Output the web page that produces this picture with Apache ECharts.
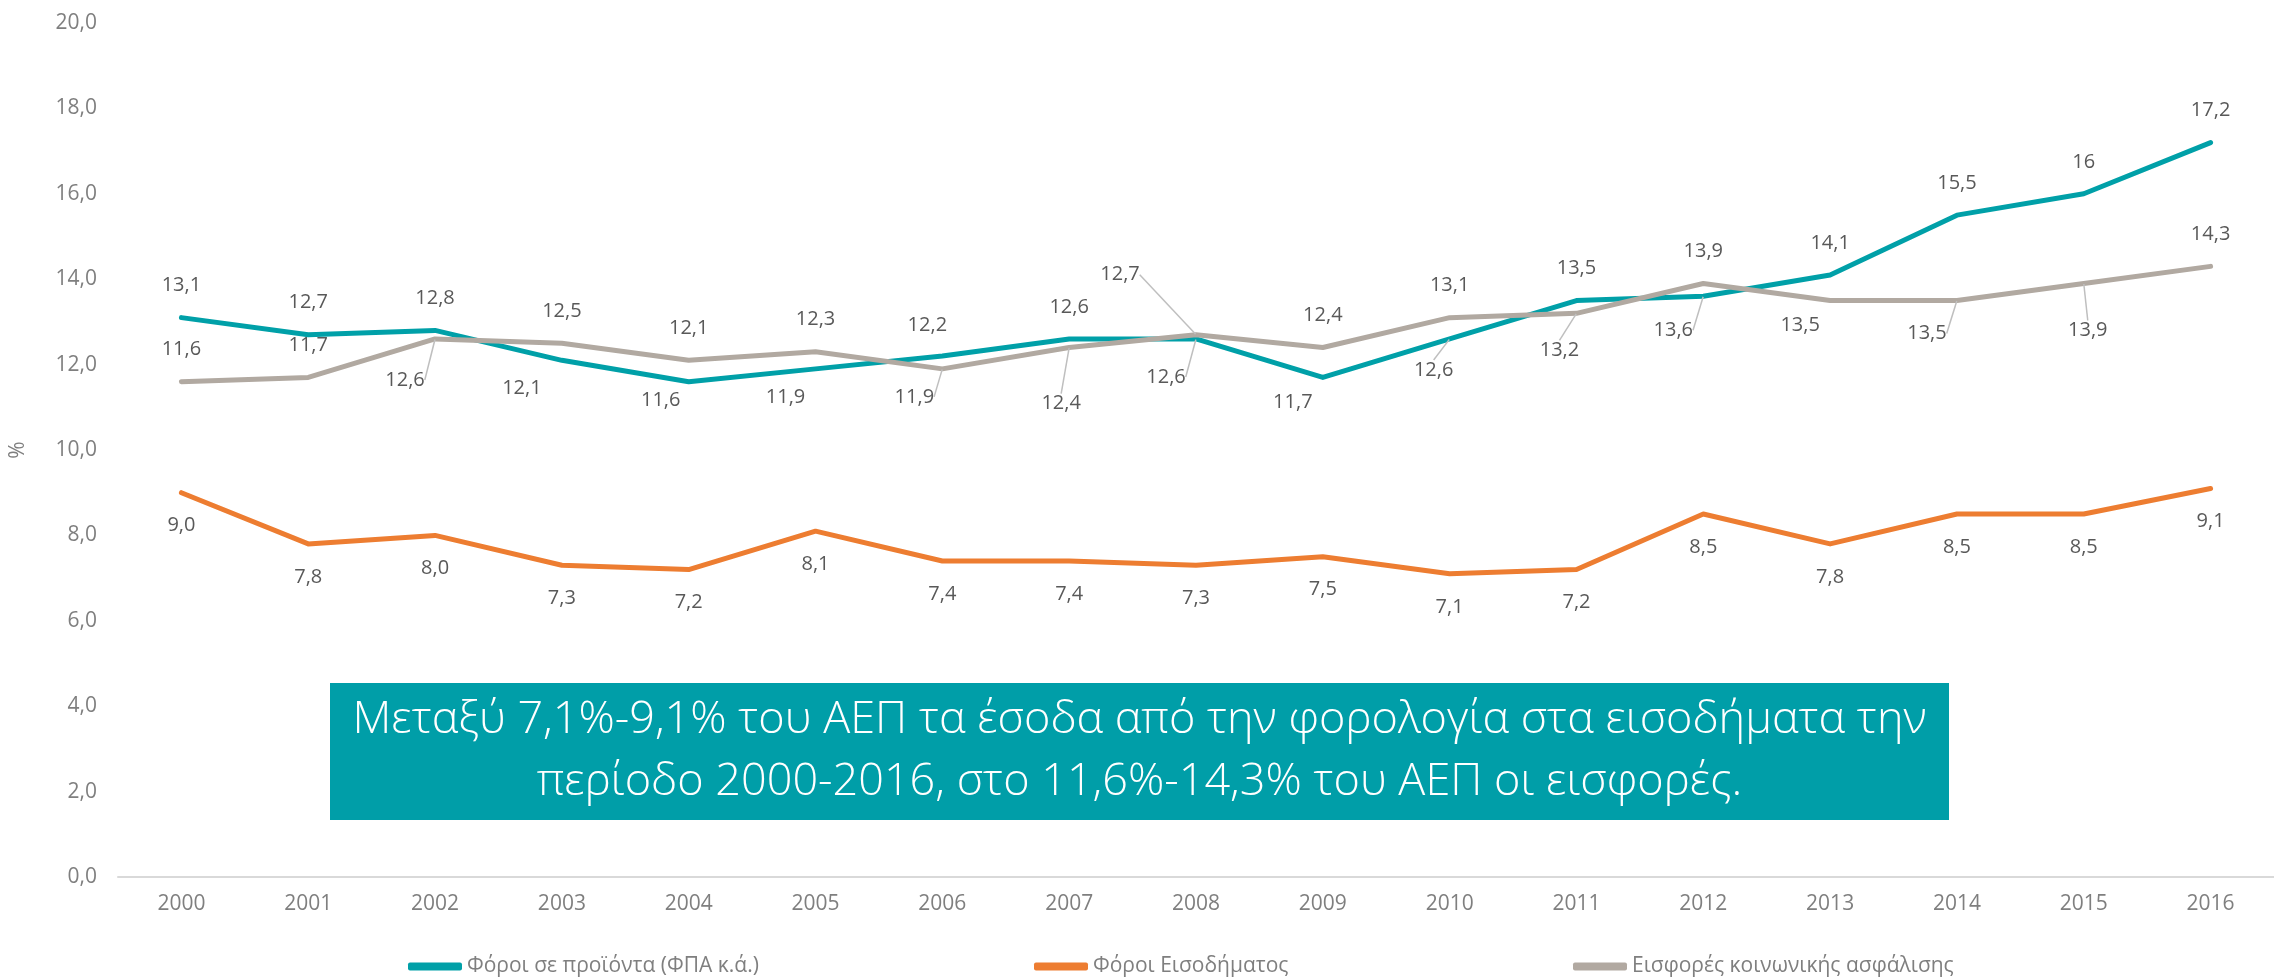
<!DOCTYPE html>
<html>
<head>
<meta charset="utf-8">
<title>Φόροι και εισφορές 2000-2016</title>
<script src="https://cdn.jsdelivr.net/npm/echarts@6/dist/echarts.min.js"></script>
<style>
  html, body { margin: 0; padding: 0; background: #fff; }
  #chart { width: 2274px; height: 978px; }
</style>
</head>
<body>
<div id="chart"></div>
<script>
// δεδομένα (% του ΑΕΠ)
const years = ['2000', '2001', '2002', '2003', '2004', '2005', '2006', '2007', '2008',
  '2009', '2010', '2011', '2012', '2013', '2014', '2015', '2016']
const productTaxes = [13.1, 12.7, 12.8, 12.1, 11.6, 11.9, 12.2, 12.6, 12.6, 11.7, 12.6, 13.5, 13.6, 14.1, 15.5, 16, 17.2]
const incomeTaxes = [9.0, 7.8, 8.0, 7.3, 7.2, 8.1, 7.4, 7.4, 7.3, 7.5, 7.1, 7.2, 8.5, 7.8, 8.5, 8.5, 9.1]
const socialContrib = [11.6, 11.7, 12.6, 12.5, 12.1, 12.3, 11.9, 12.4, 12.7, 12.4, 13.1, 13.2, 13.9, 13.5, 13.5, 13.9, 14.3]

const seriesNames = ['Φόροι σε προϊόντα (ΦΠΑ κ.ά.)', 'Φόροι Εισοδήματος', 'Εισφορές κοινωνικής ασφάλισης']
const colors = ['#00A0A8', '#ED7D31', '#B1A9A1']
const boxText = 'Μεταξύ 7,1%-9,1% του ΑΕΠ τα έσοδα από την φορολογία στα εισοδήματα την\n' +
  'περίοδο 2000-2016, στο 11,6%-14,3% του ΑΕΠ οι εισφορές.'

// θέσεις ετικετών (μετατόπιση από το σημείο, px)
const defaultDy = [-32, 33, -32]
const labelShift = {
  0: { 3: [-40, 28], 4: [-28, 19], 5: [-30, 28], 6: [-15, -31], 8: [-30, 38], 9: [-30, 25], 10: [-16, 31], 12: [-30, 34] },
  1: {},
  2: { 2: [-30, 41], 6: [-28, 28], 7: [-8, 56], 8: [-76, -60], 11: [-17, 37], 13: [-30, 25], 14: [-30, 33], 15: [4, 47] }
}
const leaders = { 0: [8, 10, 12], 1: [], 2: [2, 6, 7, 8, 11, 14, 15] }

const FONT = '"Open Sans", "Noto Sans", sans-serif'
const comma = v => String(v).replace('.', ',')

function buildSeries(idx, values, fmt) {
  return {
    name: seriesNames[idx],
    type: 'line',
    z: 2 + idx,
    symbol: 'circle',
    symbolSize: 1,
    showSymbol: true,
    color: colors[idx],
    itemStyle: { color: colors[idx] },
    lineStyle: { width: 5, color: colors[idx], cap: 'round', join: 'round' },
    label: {
      show: true,
      position: 'inside',
      color: '#595959',
      fontFamily: FONT,
      fontWeight: 400,
      fontSize: 20,
      formatter: p => fmt(p.value)
    },
    labelLine: { show: false, lineStyle: { color: '#BFBFBF', width: 1.5 } },
    labelLayout: function (params) {
      const s = labelShift[idx][params.dataIndex]
      if (s) return { dx: s[0], dy: s[1] }
      return { dx: 0, dy: defaultDy[idx] }
    },
    data: values.map((v, i) => leaders[idx].indexOf(i) >= 0
      ? { value: v, labelLine: { show: true, lineStyle: { color: '#BFBFBF', width: 1.5 } } }
      : v)
  }
}

const chart = echarts.init(document.getElementById('chart'))

const legendBase = {
  top: 951,
  icon: 'roundRect',
  itemWidth: 54,
  itemHeight: 8,
  itemGap: 0,
  textStyle: { color: '#7F7F7F', fontSize: 21, fontWeight: 400, fontFamily: FONT }
}

chart.setOption({
  animation: false,
  backgroundColor: '#fff',
  grid: { left: 112, top: 23, width: 2198, bottom: 101 },
  legend: [
    Object.assign({ left: 403, data: [seriesNames[0]] }, legendBase),
    Object.assign({ left: 1029, data: [seriesNames[1]] }, legendBase),
    Object.assign({ left: 1568, data: [seriesNames[2]] }, legendBase)
  ],
  xAxis: {
    type: 'category',
    data: years,
    boundaryGap: true,
    axisTick: { show: false },
    axisLine: { lineStyle: { color: '#D9D9D9', width: 2 } },
    axisLabel: { color: '#7F7F7F', fontSize: 21, fontWeight: 400, fontFamily: FONT, margin: 17 }
  },
  yAxis: {
    type: 'value',
    min: 0,
    max: 20,
    interval: 2,
    name: '%',
    nameLocation: 'middle',
    nameGap: 89,
    nameTextStyle: { color: '#7F7F7F', fontSize: 21, fontWeight: 400, fontFamily: FONT },
    splitLine: { show: false },
    axisLine: { show: false },
    axisTick: { show: false },
    axisLabel: {
      color: '#7F7F7F', fontSize: 21, fontWeight: 400, fontFamily: FONT, margin: 21,
      formatter: v => v.toFixed(1).replace('.', ',')
    }
  },
  graphic: [
    {
      type: 'rect',
      left: 330,
      top: 683,
      z: 10,
      shape: { width: 1619, height: 137 },
      style: { fill: '#009EA8' }
    },
    {
      type: 'text',
      x: 1139.5,
      y: 751.5,
      z: 11,
      style: {
        text: boxText,
        fill: '#fff',
        fontSize: 45,
        fontWeight: 300,
        fontFamily: FONT,
        align: 'center',
        verticalAlign: 'middle',
        lineHeight: 62
      }
    }
  ],
  series: [
    buildSeries(0, productTaxes, comma),
    buildSeries(1, incomeTaxes, v => v.toFixed(1).replace('.', ',')),
    buildSeries(2, socialContrib, comma)
  ]
})
</script>
</body>
</html>
